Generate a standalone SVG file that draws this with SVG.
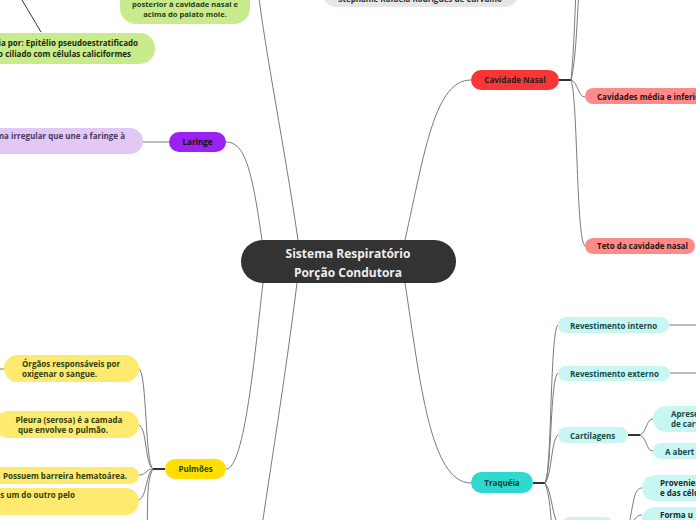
<svg xmlns="http://www.w3.org/2000/svg" width="696" height="520" viewBox="0 0 696 520">
<style>
text{font-family:"Open Sans","Noto Sans",sans-serif;font-weight:700;font-size:8px}
.c{fill:none;stroke:#7a7a7a;stroke-width:1}
.s{fill:none;stroke:#333;stroke-width:2}
.mid{text-anchor:middle}
.end{text-anchor:end}
</style>
<rect width="696" height="520" fill="#fff"/>
<g id="connectors">
<path class="c" d="M405,240 C425,150 435,80 471,80"/>
<path class="c" d="M262,240 C252,170 245,142 226,142"/>
<path class="c" d="M298,240 C285,150 265,50 258,-10"/>
<path class="c" d="M263,283 C255,350 245,469 226,469"/>
<path class="c" d="M297,283 C285,380 270,470 260,540"/>
<path class="c" d="M405,283 C420,380 430,483 471,483"/>
<path class="s" d="M559,80 H571"/>
<path class="c" d="M571,80 C576,60 577,20 579,-10"/>
<path class="c" d="M571,80 C574,50 575,10 576,-10"/>
<path class="c" d="M571,80 C578,82 578,97 585,97"/>
<path class="c" d="M571,80 C578,100 576,240 585,246"/>
<path class="c" d="M169,142 H143"/>
<path d="M22,0 L41,32" fill="none" stroke="#333" stroke-width="1"/>
<path class="s" d="M165,469 H153"/>
<path class="c" d="M153,469 C145,465 147,372 139,369"/>
<path class="c" d="M153,469 C145,465 147,428 139,425"/>
<path class="c" d="M153,469 C146,469 146,475 139,475"/>
<path class="c" d="M153,469 C146,472 147,497 139,500"/>
<path class="c" d="M153,469 C146,480 148,510 147,530"/>
<path class="c" d="M0,369 H4"/>
<path class="s" d="M533,483 H545"/>
<path class="c" d="M545,483 C552,470 550,330 558,325"/>
<path class="c" d="M545,483 C552,470 550,378 558,373"/>
<path class="c" d="M545,483 C552,475 551,440 558,435"/>
<path class="c" d="M545,483 C552,490 552,520 560,527"/>
<path class="c" d="M545,483 C550,495 551,520 552,530"/>
<path class="c" d="M669,325 H696"/>
<path class="c" d="M670,373 H696"/>
<path class="s" d="M628,435 H640"/>
<path class="c" d="M640,435 C647,432 646,419 653,419"/>
<path class="c" d="M640,435 C647,438 646,451 653,451"/>
<path class="c" d="M628,530 C634,500 634,488 642,488"/>
<path class="c" d="M628,530 C634,520 636,515 642,515"/>
</g>
<g id="author"><rect x="323" y="-20" width="195" height="27" rx="13" fill="#e6e6e6"/><text x="420" y="2" class="mid" fill="#333">Stephanie Rafaela Rodrigues de Carvalho</text></g>
<g id="faringe-desc"><rect x="120" y="-20" width="130" height="44" rx="16" fill="#c8ec8c"/><text x="185" y="7" class="mid" fill="#2f3b1e" style="font-size:7.6px">posterior à cavidade nasal e</text><text x="185" y="17" class="mid" fill="#2f3b1e" style="font-size:7.6px">acima do palato mole.</text></g>
<g id="epitelio"><rect x="-80" y="33" width="235" height="31" rx="15" fill="#c8ec8c"/><text x="138" y="46" class="end" fill="#1e2a10">ia por: Epitélio pseudoestratificado</text><text x="131" y="57" class="end" fill="#1e2a10">o ciliado com células caliciformes</text></g>
<g id="central"><rect x="241" y="240" width="215" height="43" rx="21.5" fill="#333"/><text x="348" y="257.5" class="mid" fill="#eee" style="font-size:12px">Sistema Respiratório</text><text x="348" y="276.5" class="mid" fill="#eee" style="font-size:12px">Porção Condutora</text></g>
<g id="cavidade-nasal"><rect x="471" y="70" width="88" height="20" rx="10" fill="#f83636"/><text x="515" y="83" class="mid" fill="#222">Cavidade Nasal</text></g>
<g id="cavidades-media"><rect x="585" y="88" width="130" height="16" rx="8" fill="#ff8a8a"/><text x="597" y="99.5" fill="#2a1515">Cavidades média e inferiores</text></g>
<g id="teto"><rect x="585" y="238" width="110" height="16" rx="8" fill="#ff8a8a"/><text x="597" y="249" fill="#2a1515">Teto da cavidade nasal</text></g>
<g id="laringe"><rect x="169" y="132" width="57" height="20" rx="10" fill="#9b22f2"/><text x="197.5" y="145" class="mid" fill="#111">Laringe</text></g>
<g id="laringe-desc"><rect x="-60" y="128" width="203" height="26" rx="13" fill="#e2c8f5"/><text x="125" y="139" class="end" fill="#4a3a5a">ma irregular que une a faringe à</text></g>
<g id="pulmoes"><rect x="165" y="459" width="61" height="20" rx="10" fill="#ffde00"/><text x="195.5" y="472" class="mid" fill="#2e4214">Pulmões</text></g>
<g id="orgaos"><rect x="4" y="355" width="135" height="27" rx="13.5" fill="#ffe96e"/><text x="22" y="367" fill="#2e4214">Órgãos responsáveis por</text><text x="22" y="377" fill="#2e4214">oxigenar o sangue.</text></g>
<g id="pleura"><rect x="-5" y="411" width="144" height="27" rx="13.5" fill="#ffe96e"/><text x="69" y="422.5" class="mid" fill="#2e4214">Pleura (serosa) é a camada</text><text x="63" y="433" class="mid" fill="#2e4214">que envolve o pulmão.</text></g>
<g id="possuem"><rect x="-10" y="467" width="149" height="17" rx="8.5" fill="#ffe96e"/><text x="3" y="478.5" fill="#2e4214">Possuem barreira hematoárea.</text></g>
<g id="separados"><rect x="-20" y="488" width="159" height="27" rx="13.5" fill="#ffe96e"/><text x="75" y="498" class="end" fill="#2e4214">s um do outro pelo</text></g>
<g id="traqueia"><rect x="471" y="472" width="62" height="21" rx="10.5" fill="#2fd9d0"/><text x="502" y="486" class="mid" fill="#123d3a">Traquéia</text></g>
<g id="rev-interno"><rect x="558" y="317" width="111" height="16" rx="8" fill="#c8f7f3"/><text x="570" y="328.5" fill="#1a4a46">Revestimento interno</text></g>
<g id="rev-externo"><rect x="558" y="366" width="112" height="15" rx="7.5" fill="#c8f7f3"/><text x="570" y="377" fill="#1a4a46">Revestimento externo</text></g>
<g id="cartilagens"><rect x="558" y="427" width="70" height="16" rx="8" fill="#c8f7f3"/><text x="570" y="438.5" fill="#1a4a46">Cartilagens</text></g>
<g id="apresentam"><rect x="653" y="406" width="80" height="26" rx="13" fill="#c8f7f3"/><text x="671" y="417" fill="#1a4a46">Aprese</text><text x="671" y="427" fill="#1a4a46">de carv</text></g>
<g id="abertura"><rect x="653" y="443" width="80" height="16" rx="8" fill="#c8f7f3"/><text x="665" y="454.5" fill="#1a4a46">A abert</text></g>
<g id="lower"><rect x="560" y="517" width="55" height="20" rx="10" fill="#c8f7f3"/></g>
<g id="provenientes"><rect x="642" y="475" width="80" height="26" rx="13" fill="#c8f7f3"/><text x="660" y="486" fill="#1a2a28">Provenien</text><text x="660" y="496" fill="#1a2a28">e das célu</text></g>
<g id="forma"><rect x="642" y="507" width="80" height="26" rx="13" fill="#c8f7f3"/><text x="660" y="517.5" fill="#1a2a28">Forma u</text></g>
</svg>
